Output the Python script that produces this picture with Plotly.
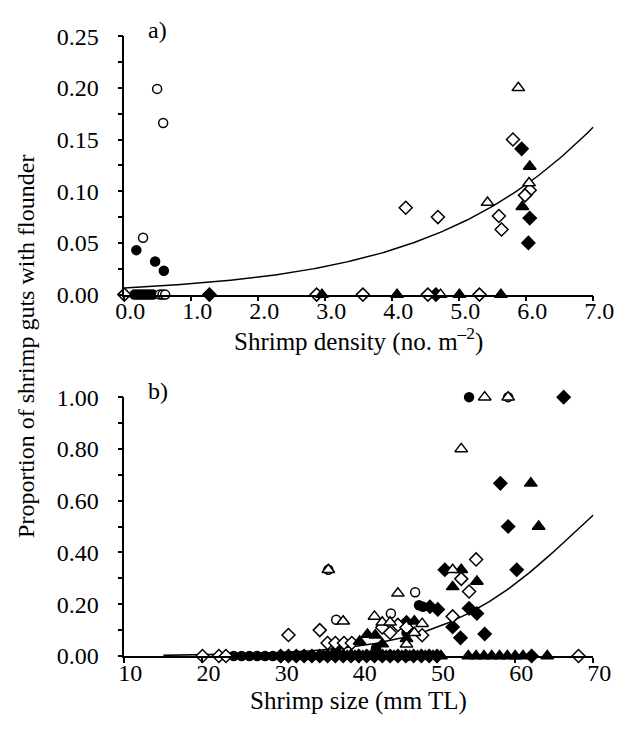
import numpy as np
import plotly.graph_objects as go

# ---------------- Panel a: shrimp density ----------------
a_fc_x = [0.18, 0.46, 0.59, 0.15, 0.19, 0.23, 0.27, 0.31, 0.35, 0.39, 0.43]
a_fc_y = [0.043, 0.032, 0.023, 0, 0, 0, 0, 0, 0, 0, 0]
a_oc_x = [0.49, 0.58, 0.28, 0.53, 0.57, 0.61]
a_oc_y = [0.199, 0.166, 0.055, 0, 0, 0]
a_fd_x = [5.93, 6.05, 6.03, 1.27, 4.65]
a_fd_y = [0.141, 0.074, 0.050, 0, 0]
a_od_x = [5.80, 6.05, 5.98, 4.20, 4.68, 5.59, 5.63, 0.0, 2.87, 3.56, 4.53, 5.30]
a_od_y = [0.150, 0.101, 0.096, 0.084, 0.075, 0.076, 0.063, 0, 0, 0, 0, 0]
a_ft_x = [6.05, 5.94, 2.95, 4.07, 5.0, 5.62]
a_ft_y = [0.124, 0.085, 0, 0, 0, 0]
a_ot_x = [5.88, 6.04, 5.42, 4.72]
a_ot_y = [0.200, 0.108, 0.089, 0]
a_fit = (-5.03, 0.484)   # logistic intercept, slope
a_xticks = [0, 1, 2, 3, 4, 5, 6, 7]
a_xtick_text = ["0.0", "1.0", "2.0", "3.0", "4.0", "5.0", "6.0", "7.0"]
a_yticks = [0, 0.05, 0.10, 0.15, 0.20, 0.25]
a_ytick_text = ["0.00", "0.05", "0.10", "0.15", "0.20", "0.25"]

# ---------------- Panel b: shrimp size ----------------
b_fc_x = [54.1, 47.7, 48.2, 46.1, 42.2, 37.1,
          24, 25, 26, 27, 28, 29, 30, 31, 32, 33, 34, 35, 36, 37, 38, 39, 40, 41, 42, 43, 44, 45]
b_fc_y = [1.0, 0.196, 0.19, 0.09, 0.03, 0.025] + [0] * 22
b_oc_x = [59.1, 36.1, 47.2, 37.1, 44.1, 46.2]
b_oc_y = [1.0, 0.333, 0.246, 0.14, 0.164, 0]
b_fd_x = [66.2, 58.1, 59.1, 51.0, 60.2, 54.1, 55.1, 49.1, 50.1, 52.0, 53.0, 56.1, 46.1,
          30, 31, 32, 33, 34, 35, 36, 37, 38, 39, 40, 41, 42, 43, 44, 45, 46, 47, 48, 49, 50, 62.1]
b_fd_y = [1.0, 0.667, 0.5, 0.333, 0.333, 0.184, 0.164, 0.19, 0.18, 0.112, 0.07, 0.085, 0.13] + [0] * 22
b_od_x = [55.0, 53.1, 54.1, 52.0, 35.0, 36.0, 37.0, 38.1, 39.1, 43.0, 44.0, 45.0, 46.1, 48.1, 31.0,
          20.0, 22.1, 23.0, 68.1]
b_od_y = [0.373, 0.298, 0.249, 0.153, 0.10, 0.05, 0.05, 0.05, 0.05, 0.11, 0.09, 0.12, 0.11, 0.08, 0.081,
          0, 0, 0, 0]
b_ft_x = [62.0, 63.0, 53.1, 52.0, 55.1, 47.1, 46.1, 40.1, 41.1, 42.1, 43.0,
          35.5, 36.5, 37.5, 38.5, 39.5, 40.5, 41.5, 42.5, 43.5, 44.5, 45.5, 46.5, 47.5, 48.5, 49.5, 50.5,
          54, 55, 56, 57, 58, 59, 60, 61, 64.1]
b_ft_y = [0.667, 0.5, 0.333, 0.267, 0.288, 0.134, 0.067, 0.056, 0.083, 0.08, 0.046] + [0] * 25
b_ot_x = [56.1, 59.1, 53.1, 52.0, 36.1, 45.0, 38.0, 42.0, 43.0, 44.0, 48.1, 47.1, 46.1]
b_ot_y = [1.0, 1.0, 0.80, 0.333, 0.333, 0.242, 0.134, 0.153, 0.13, 0.13, 0.125, 0.09, 0.045]
b_fit = (-7.73, 0.113)
b_fit_start = 15
b_xticks = [10, 20, 30, 40, 50, 60, 70]
b_yticks = [0, 0.2, 0.4, 0.6, 0.8, 1.0]
b_ytick_text = ["0.00", "0.20", "0.40", "0.60", "0.80", "1.00"]

FONT = "Liberation Serif"
W, H = 636, 731
FS = 24

fig = go.Figure()

def add_series(x, y, symbol, filled, xa, ya, size=9):
    fig.add_trace(go.Scatter(
        x=x, y=y, mode="markers", xaxis=xa, yaxis=ya, cliponaxis=False,
        marker=dict(symbol=symbol, size=size,
                    color="black" if filled else "white",
                    line=dict(color="black", width=1.5)),
        showlegend=False, hoverinfo="skip"))

def add_fit(params, x0, x1, xa, ya):
    a, b = params
    xs = np.linspace(x0, x1, 200)
    ys = 1 / (1 + np.exp(-(a + b * xs)))
    fig.add_trace(go.Scatter(x=xs, y=ys, mode="lines", xaxis=xa, yaxis=ya,
                             line=dict(color="black", width=1.5),
                             showlegend=False, hoverinfo="skip"))

# panel a
add_fit(a_fit, 0, 7, "x", "y")
add_series(a_fc_x, a_fc_y, "circle", True, "x", "y")
add_series(a_oc_x, a_oc_y, "circle", False, "x", "y")
add_series(a_fd_x, a_fd_y, "diamond", True, "x", "y", 10)
add_series(a_od_x, a_od_y, "diamond", False, "x", "y", 10)
add_series(a_ft_x, a_ft_y, "triangle-up", True, "x", "y", 11)
add_series(a_ot_x, a_ot_y, "triangle-up", False, "x", "y", 11)

# panel b
add_fit(b_fit, b_fit_start, 70, "x2", "y2")
add_series(b_fc_x, b_fc_y, "circle", True, "x2", "y2")
add_series(b_oc_x, b_oc_y, "circle", False, "x2", "y2")
add_series(b_fd_x, b_fd_y, "diamond", True, "x2", "y2", 10)
add_series(b_od_x, b_od_y, "diamond", False, "x2", "y2", 10)
add_series(b_ft_x, b_ft_y, "triangle-up", True, "x2", "y2", 11)
add_series(b_ot_x, b_ot_y, "triangle-up", False, "x2", "y2", 11)

xdom = [121 / W, 613.3 / W]
ya_dom = [1 - 292 / H, 1 - 24 / H]
yb_dom = [1 - 666.7 / H, 1 - 398.3 / H]

tickfont = dict(family=FONT, size=FS, color="black")
common_x = dict(showgrid=False, zeroline=False, showline=True, linecolor="black", linewidth=1.5,
                ticks="outside", ticklen=5, tickwidth=1.5, tickcolor="black", tickfont=tickfont,
                ticklabelshift=6, ticklabelstandoff=-11)
common_y = dict(showgrid=False, zeroline=False, showline=True, linecolor="black", linewidth=1.5,
                ticks="outside", ticklen=5, tickwidth=1.5, tickcolor="black", tickfont=tickfont,
                ticklabelstandoff=14)

titlefont = dict(family=FONT, size=FS, color="black")
xtitlefont = dict(family=FONT, size=25, color="black")

fig.update_layout(
    width=W, height=H, margin=dict(l=0, r=0, t=0, b=0),
    paper_bgcolor="white", plot_bgcolor="white",
    font=dict(family=FONT, color="black"),
    xaxis=dict(common_x, domain=xdom, range=[0, 7], tickvals=a_xticks, ticktext=a_xtick_text,
               anchor="y"),
    yaxis=dict(common_y, domain=ya_dom, range=[0, 0.25], tickvals=a_yticks, ticktext=a_ytick_text,
               anchor="x",
               minor=dict(ticks="outside", ticklen=5, tickwidth=1.5, tickcolor="black", dtick=0.025,
                          showgrid=False)),
    xaxis2=dict(common_x, domain=xdom, range=[10, 70], tickvals=b_xticks, anchor="y2"),
    yaxis2=dict(common_y, domain=yb_dom, range=[0, 1.0], tickvals=b_yticks, ticktext=b_ytick_text,
                anchor="x2",
                minor=dict(ticks="outside", ticklen=5, tickwidth=1.5, tickcolor="black", dtick=0.1,
                           showgrid=False)),
    annotations=[
        dict(text="Shrimp density (no. m<sup>\u20132</sup>)", xref="paper", yref="paper",
             x=367 / W, y=1 - 339 / H, showarrow=False, font=xtitlefont,
             xanchor="center", yanchor="middle"),
        dict(text="Shrimp size (mm TL)", xref="paper", yref="paper",
             x=367 / W, y=1 - 713 / H, showarrow=False, font=xtitlefont,
             xanchor="center", yanchor="middle"),
        dict(text="Proportion of shrimp guts with flounder", xref="paper", yref="paper",
             x=17 / W, y=1 - 346 / H, textangle=-90, showarrow=False, font=titlefont,
             xanchor="center", yanchor="middle"),
        dict(text="a)", xref="paper", yref="paper", x=144 / W, y=1 - 18 / H, showarrow=False,
             font=titlefont, xanchor="left", yanchor="middle"),
        dict(text="b)", xref="paper", yref="paper", x=144 / W, y=1 - 392 / H, showarrow=False,
             font=titlefont, xanchor="left", yanchor="middle"),
    ],
)

fig.write_html("out.html")
